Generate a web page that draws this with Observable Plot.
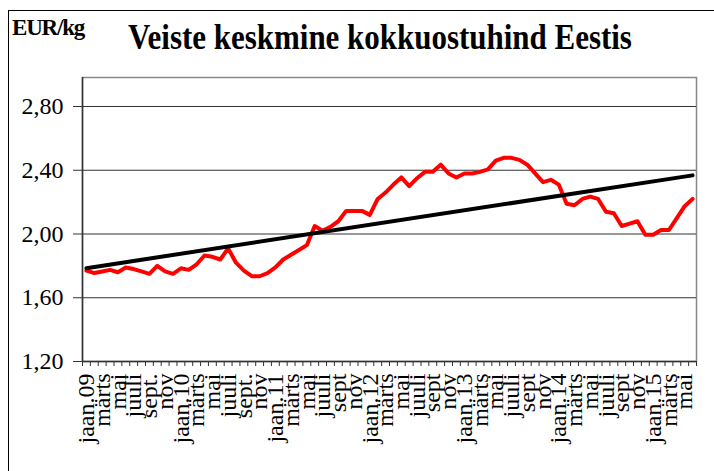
<!DOCTYPE html>
<html><head><meta charset="utf-8">
<script src="https://cdn.jsdelivr.net/npm/d3@7"></script>
<script src="https://cdn.jsdelivr.net/npm/@observablehq/plot@0.6"></script>
<style>
body{margin:0;background:#fff;}
#wrap{position:relative;width:714px;height:471px;overflow:hidden;font-family:"Liberation Serif","Times New Roman",serif;}
#box{position:absolute;left:8px;top:10px;width:800px;height:600px;border:1.5px solid #000;box-sizing:border-box;}
#unit{position:absolute;left:12px;top:16px;font-weight:bold;font-size:23px;letter-spacing:-1.2px;line-height:1;}
#title{position:absolute;left:0;width:760px;top:19px;text-align:center;font-weight:bold;font-size:36px;line-height:1;transform:scaleX(0.86);transform-origin:380px center;}
#chart{position:absolute;left:0;top:0;}
</style></head><body>
<div id="wrap"><div id="box"></div><div id="chart"></div><div id="unit">EUR/kg</div><div id="title">Veiste keskmine kokkuostuhind Eestis</div></div>
<script>
const tickLabels = ["jaan.09","märts","mai","juuli","sept.","nov",
  "jaan.10","märts","mai","juuli","sept.","nov",
  "jaan.11","märts","mai","juuli","sept","nov",
  "jaan.12","märts","mai","juuli","sept","nov",
  "jaan.13","märts","mai","juuli","sept","nov",
  "jaan.14","märts","mai","juuli","sept","nov",
  "jaan.15","märts","mai"];
const prices = [
  1.77,1.755,1.765,1.775,1.76,1.79,1.78,1.765,1.75,1.80,1.765,1.75,
  1.785,1.775,1.81,1.865,1.857,1.84,1.91,1.82,1.77,1.735,1.735,1.755,
  1.79,1.84,1.87,1.90,1.93,2.05,2.02,2.045,2.08,2.145,2.145,2.145,
  2.12,2.22,2.26,2.31,2.355,2.30,2.35,2.39,2.39,2.435,2.38,2.355,
  2.38,2.38,2.39,2.405,2.46,2.478,2.478,2.465,2.435,2.38,2.325,2.34,
  2.31,2.19,2.18,2.22,2.235,2.22,2.14,2.13,2.05,2.065,2.08,1.995,
  1.995,2.025,2.025,2.10,2.175,2.22];
const yTicks = [1.2,1.6,2.0,2.4,2.8];

const data = prices.map((v,i)=>({i, v}));
const labelTicks = tickLabels.map((_,k)=>2*k);
const boundaries = d3.range(prices.length+1).map(k=>k-0.5);
const fmt = d => d.toFixed(2).replace(".", ",");

const chart = Plot.plot({
  width:714, height:471,
  marginLeft:82, marginRight:18, marginTop:77, marginBottom:110,
  x:{domain:[-0.5, prices.length-0.5]},
  y:{domain:[1.2,2.8], range:[361,106]},
  style:{background:"transparent", fontFamily:"'Liberation Serif', serif", color:"#000"},
  marks:[
    Plot.frame({stroke:"#888", strokeWidth:1.5}),
    Plot.gridY(yTicks.slice(1), {stroke:"#333", strokeOpacity:1, strokeWidth:1.2}),
    Plot.axisY(yTicks, {tickSize:9, tickPadding:10, fontSize:24, tickFormat:fmt, label:null, stroke:"#333"}),
    Plot.axisX(boundaries, {tickSize:5, tickFormat:()=>"", label:null, stroke:"#333"}),
    Plot.axisX(labelTicks, {tickSize:0, tickPadding:12, tickRotate:-90, fontSize:24, tickFormat:d=>tickLabels[d/2], label:null}),
    Plot.ruleX([-0.5], {stroke:"#333", strokeWidth:1.5}),
    Plot.ruleY([1.2], {stroke:"#333", strokeWidth:1.5}),
    Plot.line(data, {x:"i", y:"v", stroke:"#ff0000", strokeWidth:4}),
    Plot.linearRegressionY(data, {x:"i", y:"v", stroke:"#000", strokeWidth:4, ci:0})
  ]
});
document.getElementById("chart").appendChild(chart);
</script>
</body></html>
